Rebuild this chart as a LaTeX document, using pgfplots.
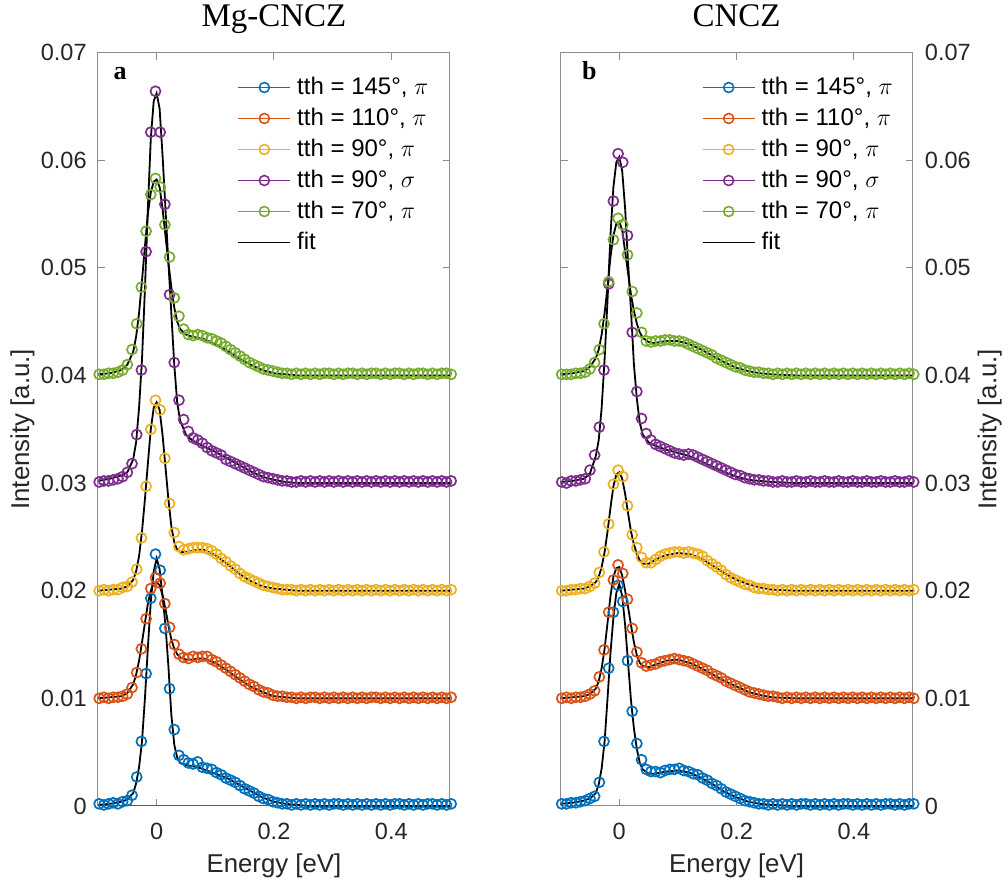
\documentclass[border=0pt]{standalone}
\usepackage{pgfplots}
\pgfplotsset{compat=1.18}
\usepackage{pgfplotstable}
\usepackage{fontspec}
\setmainfont{Liberation Sans}
\newfontfamily\seriffont{Liberation Serif}
\definecolor{mblue}{rgb}{0,0.447,0.741}
\definecolor{morange}{rgb}{0.850,0.325,0.098}
\definecolor{myellow}{rgb}{0.929,0.694,0.125}
\definecolor{mpurple}{rgb}{0.494,0.184,0.556}
\definecolor{mgreen}{rgb}{0.466,0.674,0.188}

% Mg-CNCZ measured data
\pgfplotstableread{
x b o y p g
-0.098 0.0002 0.0100 0.0200 0.0301 0.0401
-0.090 0.0001 0.0101 0.0201 0.0302 0.0401
-0.082 0.0002 0.0100 0.0200 0.0302 0.0402
-0.074 0.0003 0.0101 0.0201 0.0303 0.0402
-0.066 0.0002 0.0101 0.0201 0.0304 0.0403
-0.058 0.0004 0.0102 0.0203 0.0306 0.0405
-0.050 0.0005 0.0104 0.0204 0.0310 0.0410
-0.042 0.0010 0.0110 0.0208 0.0318 0.0424
-0.034 0.0027 0.0124 0.0220 0.0345 0.0448
-0.026 0.0060 0.0146 0.0249 0.0405 0.0482
-0.018 0.0123 0.0174 0.0297 0.0515 0.0534
-0.010 0.0193 0.0202 0.0350 0.0626 0.0568
-0.002 0.0234 0.0212 0.0377 0.0664 0.0583
0.006 0.0219 0.0207 0.0368 0.0626 0.0575
0.014 0.0165 0.0188 0.0323 0.0559 0.0540
0.022 0.0109 0.0166 0.0281 0.0475 0.0510
0.030 0.0071 0.0150 0.0254 0.0412 0.0472
0.038 0.0047 0.0141 0.0241 0.0377 0.0455
0.046 0.0043 0.0138 0.0238 0.0359 0.0443
0.054 0.0040 0.0137 0.0239 0.0348 0.0438
0.062 0.0039 0.0139 0.0240 0.0342 0.0437
0.070 0.0041 0.0138 0.0240 0.0340 0.0438
0.078 0.0036 0.0139 0.0240 0.0337 0.0437
0.086 0.0035 0.0139 0.0239 0.0333 0.0435
0.094 0.0034 0.0136 0.0237 0.0330 0.0434
0.102 0.0031 0.0134 0.0234 0.0328 0.0432
0.110 0.0029 0.0131 0.0230 0.0326 0.0430
0.118 0.0026 0.0128 0.0227 0.0322 0.0427
0.126 0.0024 0.0125 0.0223 0.0320 0.0424
0.134 0.0022 0.0122 0.0220 0.0318 0.0421
0.142 0.0019 0.0119 0.0216 0.0316 0.0418
0.150 0.0016 0.0116 0.0213 0.0314 0.0415
0.158 0.0014 0.0113 0.0211 0.0312 0.0412
0.166 0.0012 0.0111 0.0209 0.0310 0.0410
0.174 0.0009 0.0108 0.0207 0.0308 0.0408
0.182 0.0007 0.0106 0.0205 0.0306 0.0406
0.190 0.0006 0.0105 0.0204 0.0305 0.0405
0.198 0.0004 0.0103 0.0203 0.0304 0.0404
0.206 0.0003 0.0102 0.0202 0.0303 0.0403
0.214 0.0002 0.0102 0.0201 0.0302 0.0402
0.222 0.0002 0.0101 0.0201 0.0302 0.0402
0.230 0.0001 0.0101 0.0201 0.0301 0.0401
0.238 0.0002 0.0100 0.0200 0.0301 0.0402
0.246 0.0001 0.0101 0.0201 0.0302 0.0401
0.254 0.0002 0.0100 0.0200 0.0301 0.0402
0.262 0.0001 0.0101 0.0201 0.0302 0.0401
0.270 0.0002 0.0101 0.0200 0.0301 0.0402
0.278 0.0001 0.0100 0.0201 0.0302 0.0401
0.286 0.0002 0.0101 0.0200 0.0301 0.0402
0.294 0.0001 0.0100 0.0201 0.0302 0.0402
0.302 0.0002 0.0101 0.0200 0.0301 0.0401
0.310 0.0002 0.0100 0.0201 0.0302 0.0402
0.318 0.0001 0.0101 0.0200 0.0301 0.0401
0.326 0.0002 0.0100 0.0201 0.0302 0.0402
0.334 0.0001 0.0101 0.0200 0.0301 0.0402
0.342 0.0002 0.0100 0.0201 0.0302 0.0401
0.350 0.0001 0.0101 0.0200 0.0301 0.0402
0.358 0.0002 0.0100 0.0201 0.0302 0.0401
0.366 0.0001 0.0101 0.0200 0.0301 0.0402
0.374 0.0002 0.0101 0.0201 0.0302 0.0402
0.382 0.0001 0.0100 0.0200 0.0301 0.0401
0.390 0.0002 0.0101 0.0201 0.0302 0.0402
0.398 0.0001 0.0100 0.0200 0.0301 0.0401
0.406 0.0002 0.0101 0.0201 0.0302 0.0402
0.414 0.0002 0.0100 0.0200 0.0301 0.0402
0.422 0.0001 0.0101 0.0201 0.0302 0.0401
0.430 0.0002 0.0100 0.0200 0.0301 0.0402
0.438 0.0001 0.0101 0.0201 0.0302 0.0401
0.446 0.0002 0.0100 0.0200 0.0301 0.0402
0.454 0.0001 0.0101 0.0201 0.0302 0.0402
0.462 0.0002 0.0100 0.0200 0.0301 0.0401
0.470 0.0002 0.0101 0.0201 0.0302 0.0402
0.478 0.0001 0.0100 0.0200 0.0301 0.0401
0.486 0.0002 0.0101 0.0201 0.0302 0.0402
0.494 0.0001 0.0100 0.0200 0.0301 0.0402
0.502 0.0002 0.0101 0.0201 0.0302 0.0401
}\dataA

% Mg-CNCZ fits
\pgfplotstableread{
x b o y p g
-0.100 0.0001 0.0100 0.0200 0.0302 0.0401
-0.080 0.0002 0.0101 0.0201 0.0304 0.0402
-0.060 0.0004 0.0102 0.0202 0.0307 0.0405
-0.050 0.0006 0.0105 0.0204 0.0310 0.0410
-0.040 0.0012 0.0113 0.0210 0.0322 0.0422
-0.035 0.0021 0.0122 0.0218 0.0338 0.0436
-0.030 0.0036 0.0135 0.0232 0.0370 0.0458
-0.025 0.0060 0.0152 0.0255 0.0415 0.0488
-0.020 0.0100 0.0170 0.0285 0.0480 0.0520
-0.015 0.0147 0.0188 0.0318 0.0555 0.0550
-0.010 0.0190 0.0200 0.0350 0.0620 0.0570
-0.005 0.0218 0.0207 0.0370 0.0655 0.0580
0.000 0.0230 0.0208 0.0375 0.0662 0.0582
0.005 0.0220 0.0205 0.0368 0.0648 0.0575
0.010 0.0195 0.0196 0.0345 0.0605 0.0555
0.015 0.0168 0.0183 0.0315 0.0555 0.0530
0.020 0.0130 0.0168 0.0285 0.0505 0.0505
0.025 0.0085 0.0155 0.0260 0.0458 0.0482
0.030 0.0057 0.0146 0.0245 0.0410 0.0463
0.035 0.0045 0.0141 0.0238 0.0375 0.0450
0.040 0.0040 0.0138 0.0236 0.0358 0.0443
0.050 0.0038 0.0136 0.0236 0.0345 0.0438
0.060 0.0037 0.0136 0.0237 0.0340 0.0436
0.070 0.0036 0.0137 0.0238 0.0337 0.0435
0.080 0.0034 0.0137 0.0238 0.0334 0.0434
0.100 0.0030 0.0133 0.0233 0.0329 0.0429
0.120 0.0026 0.0126 0.0225 0.0323 0.0423
0.140 0.0020 0.0118 0.0216 0.0317 0.0416
0.160 0.0014 0.0111 0.0209 0.0311 0.0410
0.180 0.0008 0.0106 0.0204 0.0306 0.0405
0.200 0.0004 0.0102 0.0202 0.0303 0.0402
0.220 0.0002 0.0101 0.0201 0.0301 0.0401
0.240 0.0001 0.0100 0.0200 0.0300 0.0400
0.260 0.0000 0.0100 0.0200 0.0300 0.0400
0.300 0.0000 0.0100 0.0200 0.0300 0.0400
0.400 0.0000 0.0100 0.0200 0.0300 0.0400
0.500 0.0000 0.0100 0.0200 0.0300 0.0400
}\fitA

% CNCZ measured data
\pgfplotstableread{
x b o y p g
-0.098 0.0002 0.0100 0.0200 0.0301 0.0401
-0.090 0.0002 0.0101 0.0200 0.0300 0.0401
-0.082 0.0003 0.0100 0.0201 0.0302 0.0401
-0.074 0.0003 0.0101 0.0201 0.0302 0.0402
-0.066 0.0004 0.0101 0.0202 0.0303 0.0402
-0.058 0.0005 0.0102 0.0202 0.0304 0.0403
-0.050 0.0007 0.0104 0.0204 0.0312 0.0406
-0.042 0.0009 0.0107 0.0207 0.0326 0.0412
-0.034 0.0022 0.0120 0.0217 0.0352 0.0424
-0.026 0.0060 0.0145 0.0236 0.0405 0.0448
-0.018 0.0128 0.0180 0.0262 0.0485 0.0487
-0.010 0.0180 0.0210 0.0299 0.0562 0.0526
-0.002 0.0205 0.0224 0.0312 0.0606 0.0546
0.006 0.0190 0.0216 0.0306 0.0598 0.0540
0.014 0.0135 0.0192 0.0279 0.0530 0.0512
0.022 0.0088 0.0165 0.0252 0.0440 0.0478
0.030 0.0058 0.0143 0.0240 0.0385 0.0458
0.038 0.0043 0.0133 0.0231 0.0360 0.0440
0.046 0.0034 0.0130 0.0226 0.0346 0.0432
0.054 0.0032 0.0131 0.0226 0.0340 0.0431
0.062 0.0032 0.0132 0.0229 0.0336 0.0432
0.070 0.0031 0.0134 0.0232 0.0334 0.0432
0.078 0.0033 0.0135 0.0234 0.0332 0.0433
0.086 0.0034 0.0136 0.0235 0.0330 0.0433
0.094 0.0034 0.0137 0.0236 0.0328 0.0432
0.102 0.0035 0.0136 0.0236 0.0327 0.0432
0.110 0.0033 0.0135 0.0235 0.0326 0.0431
0.118 0.0032 0.0134 0.0236 0.0327 0.0429
0.126 0.0030 0.0132 0.0235 0.0326 0.0427
0.134 0.0029 0.0130 0.0234 0.0324 0.0425
0.142 0.0026 0.0128 0.0232 0.0322 0.0423
0.150 0.0024 0.0126 0.0228 0.0320 0.0421
0.158 0.0021 0.0123 0.0225 0.0318 0.0419
0.166 0.0019 0.0121 0.0222 0.0316 0.0416
0.174 0.0016 0.0119 0.0219 0.0314 0.0414
0.182 0.0013 0.0116 0.0215 0.0312 0.0412
0.190 0.0011 0.0114 0.0212 0.0310 0.0410
0.198 0.0009 0.0112 0.0210 0.0308 0.0408
0.206 0.0007 0.0110 0.0208 0.0307 0.0407
0.214 0.0005 0.0108 0.0206 0.0305 0.0405
0.222 0.0004 0.0106 0.0205 0.0304 0.0404
0.230 0.0003 0.0105 0.0203 0.0303 0.0403
0.238 0.0002 0.0104 0.0202 0.0303 0.0403
0.246 0.0002 0.0103 0.0202 0.0302 0.0402
0.254 0.0001 0.0102 0.0201 0.0302 0.0402
0.262 0.0002 0.0102 0.0201 0.0301 0.0401
0.270 0.0001 0.0101 0.0200 0.0301 0.0402
0.278 0.0002 0.0100 0.0201 0.0302 0.0401
0.286 0.0001 0.0101 0.0200 0.0301 0.0402
0.294 0.0002 0.0100 0.0201 0.0301 0.0401
0.302 0.0001 0.0101 0.0200 0.0302 0.0402
0.310 0.0002 0.0100 0.0201 0.0301 0.0401
0.318 0.0002 0.0101 0.0200 0.0301 0.0402
0.326 0.0001 0.0100 0.0201 0.0302 0.0401
0.334 0.0002 0.0101 0.0200 0.0301 0.0402
0.342 0.0001 0.0100 0.0201 0.0301 0.0401
0.350 0.0002 0.0101 0.0200 0.0302 0.0402
0.358 0.0001 0.0100 0.0201 0.0301 0.0401
0.366 0.0002 0.0101 0.0200 0.0301 0.0402
0.374 0.0001 0.0100 0.0201 0.0302 0.0401
0.382 0.0002 0.0101 0.0200 0.0301 0.0402
0.390 0.0002 0.0100 0.0201 0.0301 0.0401
0.398 0.0001 0.0101 0.0200 0.0302 0.0402
0.406 0.0002 0.0100 0.0201 0.0301 0.0401
0.414 0.0001 0.0101 0.0200 0.0301 0.0402
0.422 0.0002 0.0100 0.0201 0.0302 0.0401
0.430 0.0001 0.0101 0.0200 0.0301 0.0402
0.438 0.0002 0.0100 0.0201 0.0301 0.0401
0.446 0.0001 0.0101 0.0200 0.0302 0.0402
0.454 0.0002 0.0100 0.0201 0.0301 0.0401
0.462 0.0002 0.0101 0.0200 0.0301 0.0402
0.470 0.0001 0.0100 0.0201 0.0302 0.0401
0.478 0.0002 0.0101 0.0200 0.0301 0.0402
0.486 0.0001 0.0100 0.0201 0.0301 0.0401
0.494 0.0002 0.0101 0.0200 0.0302 0.0402
0.502 0.0002 0.0100 0.0201 0.0301 0.0401
}\dataB

% CNCZ fits
\pgfplotstableread{
x b o y p g
-0.100 0.0002 0.0100 0.0200 0.0301 0.0401
-0.080 0.0003 0.0101 0.0201 0.0302 0.0402
-0.060 0.0005 0.0102 0.0202 0.0304 0.0404
-0.050 0.0007 0.0104 0.0204 0.0309 0.0408
-0.040 0.0012 0.0109 0.0208 0.0325 0.0416
-0.035 0.0020 0.0116 0.0213 0.0340 0.0424
-0.030 0.0035 0.0128 0.0222 0.0370 0.0438
-0.025 0.0060 0.0146 0.0236 0.0415 0.0458
-0.020 0.0100 0.0170 0.0255 0.0470 0.0482
-0.015 0.0142 0.0195 0.0277 0.0530 0.0510
-0.010 0.0175 0.0213 0.0297 0.0575 0.0530
-0.005 0.0198 0.0221 0.0308 0.0598 0.0541
0.000 0.0206 0.0222 0.0310 0.0603 0.0543
0.005 0.0195 0.0214 0.0304 0.0590 0.0535
0.010 0.0168 0.0200 0.0290 0.0555 0.0515
0.015 0.0133 0.0185 0.0272 0.0505 0.0495
0.020 0.0098 0.0168 0.0255 0.0460 0.0475
0.025 0.0072 0.0152 0.0243 0.0410 0.0460
0.030 0.0053 0.0140 0.0234 0.0378 0.0448
0.035 0.0040 0.0133 0.0228 0.0356 0.0440
0.040 0.0034 0.0130 0.0225 0.0345 0.0435
0.050 0.0030 0.0129 0.0225 0.0338 0.0431
0.060 0.0030 0.0131 0.0228 0.0335 0.0430
0.070 0.0031 0.0133 0.0231 0.0333 0.0431
0.080 0.0032 0.0135 0.0233 0.0331 0.0432
0.100 0.0033 0.0136 0.0235 0.0328 0.0432
0.120 0.0031 0.0133 0.0234 0.0325 0.0429
0.140 0.0026 0.0128 0.0230 0.0320 0.0424
0.160 0.0020 0.0122 0.0223 0.0315 0.0418
0.180 0.0013 0.0116 0.0216 0.0310 0.0412
0.200 0.0008 0.0111 0.0210 0.0306 0.0407
0.220 0.0004 0.0106 0.0206 0.0303 0.0404
0.240 0.0002 0.0103 0.0203 0.0302 0.0402
0.260 0.0001 0.0101 0.0201 0.0301 0.0401
0.300 0.0000 0.0100 0.0200 0.0300 0.0400
0.400 0.0000 0.0100 0.0200 0.0300 0.0400
0.500 0.0000 0.0100 0.0200 0.0300 0.0400
}\fitB

\pgfplotsset{
  panel/.style={
    scale only axis, width=176pt, height=376.75pt,
    xmin=-0.1, xmax=0.5, ymin=0, ymax=0.07,
    xtick={0,0.2,0.4},
    ytick={0,0.01,0.02,0.03,0.04,0.05,0.06,0.07},
    scaled x ticks=false, scaled y ticks=false,
    y tick label style={/pgf/number format/fixed, /pgf/number format/precision=2},
    /pgf/number format/assume math mode=true,
    tick align=inside, major tick length=3.5pt,
    axis line style={draw=black!45, line width=0.5pt},
    every tick/.style={draw=black!45, line width=0.5pt},
    tick label style={font=\fontsize{11.75}{14}\selectfont, text=black!85},
    xticklabel style={anchor=north, inner sep=0pt, yshift=-8.5pt},
    every axis x label/.style={at={([yshift=-30pt]rel axis cs:0.5,0)}, anchor=center,
      font=\fontsize{12.9}{15}\selectfont, text=black!85},
    every axis title/.style={at={([yshift=13pt]rel axis cs:0.5,1)}, anchor=base,
      font=\seriffont\fontsize{16.5}{18}\selectfont},
    xlabel={Energy [eV]},
    ylabel={Intensity [a.u.]},
    clip=false,
    legend cell align=left,
    legend image code/.code={\draw[mark repeat=2,mark phase=2,#1] plot coordinates {(0pt,0pt) (13pt,0pt) (26pt,0pt)};},
    legend style={anchor=north west, draw=none, fill=none, inner sep=0pt,
      row sep=2pt, column sep=2pt,
      font=\fontsize{12}{14}\selectfont,
      nodes={inner sep=1pt, text height=9pt, text depth=2.5pt}},
  },
  dat/.style={only marks, mark=o, mark size=2.5pt, line width=0.85pt, forget plot},
  fitl/.style={black, line width=0.9pt, forget plot},
  limg/.style={#1, mark=o, mark size=2.5pt, line width=0.8pt},
}

\begin{document}
\begin{tikzpicture}
\useasboundingbox (-49pt,-39pt) rectangle (455pt,403pt);

\begin{axis}[panel, at={(0pt,0pt)}, anchor=south west,
  title={Mg-CNCZ},
  yticklabel style={anchor=east, inner sep=0pt, xshift=-5.5pt},
  every axis y label/.style={at={([xshift=-37.75pt]rel axis cs:0,0.5)}, rotate=90, anchor=center,
      font=\fontsize{12.9}{15}\selectfont, text=black!85},
  legend style={at={(rel axis cs:0.395,0.972)}}]
\addplot[mblue, line width=0.5pt, forget plot] coordinates {(-0.1,0) (0.5,0)};
\addplot[dat, color=mblue] table[x=x, y=b] {\dataA};
\addplot[dat, color=morange] table[x=x, y=o] {\dataA};
\addplot[dat, color=myellow] table[x=x, y=y] {\dataA};
\addplot[dat, color=mpurple] table[x=x, y=p] {\dataA};
\addplot[dat, color=mgreen] table[x=x, y=g] {\dataA};
\addplot[fitl] table[x=x, y=b] {\fitA};
\addplot[fitl] table[x=x, y=o] {\fitA};
\addplot[fitl] table[x=x, y=y] {\fitA};
\addplot[fitl] table[x=x, y=p] {\fitA};
\addplot[fitl] table[x=x, y=g] {\fitA};
\addlegendimage{limg=mblue}
\addlegendentry{tth = 145°, $\pi$}
\addlegendimage{limg=morange}
\addlegendentry{tth = 110°, $\pi$}
\addlegendimage{limg=myellow}
\addlegendentry{tth = 90°, $\pi$}
\addlegendimage{limg=mpurple}
\addlegendentry{tth = 90°, $\sigma$}
\addlegendimage{limg=mgreen}
\addlegendentry{tth = 70°, $\pi$}
\addlegendimage{black, line width=0.9pt, mark=none}
\addlegendentry{fit}
\node[anchor=base west, inner sep=0pt, font=\seriffont\bfseries\fontsize{13}{15}\selectfont] at (rel axis cs:0.043,0.964) {a};
\end{axis}

\begin{axis}[panel, at={(231.3pt,0pt)}, anchor=south west,
  title={CNCZ},
  yticklabel pos=right,
  yticklabel style={anchor=west, inner sep=0pt, xshift=6pt},
  every axis y label/.style={at={([xshift=38.5pt]rel axis cs:1,0.5)}, rotate=90, anchor=center,
      font=\fontsize{12.9}{15}\selectfont, text=black!85},
  legend style={at={(rel axis cs:0.40,0.972)}}]
\addplot[dat, color=mblue] table[x=x, y=b] {\dataB};
\addplot[dat, color=morange] table[x=x, y=o] {\dataB};
\addplot[dat, color=myellow] table[x=x, y=y] {\dataB};
\addplot[dat, color=mpurple] table[x=x, y=p] {\dataB};
\addplot[dat, color=mgreen] table[x=x, y=g] {\dataB};
\addplot[fitl] table[x=x, y=b] {\fitB};
\addplot[fitl] table[x=x, y=o] {\fitB};
\addplot[fitl] table[x=x, y=y] {\fitB};
\addplot[fitl] table[x=x, y=p] {\fitB};
\addplot[fitl] table[x=x, y=g] {\fitB};
\addlegendimage{limg=mblue}
\addlegendentry{tth = 145°, $\pi$}
\addlegendimage{limg=morange}
\addlegendentry{tth = 110°, $\pi$}
\addlegendimage{limg=myellow}
\addlegendentry{tth = 90°, $\pi$}
\addlegendimage{limg=mpurple}
\addlegendentry{tth = 90°, $\sigma$}
\addlegendimage{limg=mgreen}
\addlegendentry{tth = 70°, $\pi$}
\addlegendimage{black, line width=0.9pt, mark=none}
\addlegendentry{fit}
\node[anchor=base west, inner sep=0pt, font=\seriffont\bfseries\fontsize{13}{15}\selectfont] at (rel axis cs:0.06,0.964) {b};
\end{axis}
\end{tikzpicture}
\end{document}
